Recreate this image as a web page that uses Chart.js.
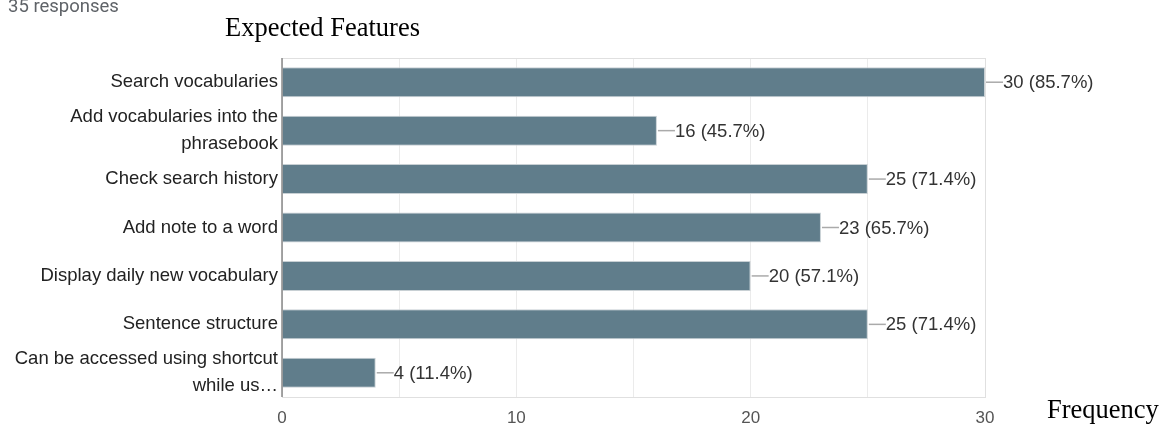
<!DOCTYPE html>
<html lang="en">
<head>
    <meta charset="UTF-8">
    <title>Expected Features</title>
    <script src="https://cdn.jsdelivr.net/npm/chart.js"></script>
    <style>
        html, body { margin: 0; padding: 0; background: #fff; }
        #wrap { position: relative; width: 1160px; height: 425px; overflow: hidden; }
        #responses { position: absolute; left: 8px; top: -5px; font: 18.5px Roboto, sans-serif; color: #5f6368; }
    </style>
</head>
<body>
    <div id="wrap">
        <canvas id="featuresChart" width="1160" height="425"></canvas>
        <div id="responses">35 responses</div>
    </div>

    <script>
        // chart data
        const features = [
            'Search vocabularies',
            ['Add vocabularies into the', 'phrasebook'],
            'Check search history',
            'Add note to a word',
            'Display daily new vocabulary',
            'Sentence structure',
            ['Can be accessed using shortcut', 'while us\u2026']
        ];
        const counts = [30, 16, 25, 23, 20, 25, 4];
        const percents = ['85.7%', '45.7%', '71.4%', '65.7%', '57.1%', '71.4%', '11.4%'];
        const xTicks = [0, 10, 20, 30];

        const sans = '"Liberation Sans", Arial, sans-serif';

        // frame, value labels and serif titles
        const extras = {
            id: 'extras',
            beforeDatasetsDraw(chart) {
                const { ctx, chartArea: a } = chart;
                ctx.save();
                ctx.strokeStyle = '#e0e0e0';
                ctx.lineWidth = 1;
                ctx.strokeRect(a.left + 0.5, a.top + 0.5, a.right - a.left, a.bottom - a.top);
                ctx.restore();
            },
            afterDatasetsDraw(chart) {
                const { ctx, chartArea: a } = chart;
                ctx.save();
                ctx.strokeStyle = '#888';
                ctx.lineWidth = 1.5;
                ctx.beginPath();
                ctx.moveTo(a.left, a.top);
                ctx.lineTo(a.left, a.bottom);
                ctx.stroke();

                const meta = chart.getDatasetMeta(0);
                ctx.font = '18.5px ' + sans;
                ctx.textBaseline = 'middle';
                ctx.textAlign = 'left';
                meta.data.forEach((bar, i) => {
                    ctx.strokeStyle = '#aaa';
                    ctx.lineWidth = 1.5;
                    ctx.beginPath();
                    ctx.moveTo(bar.x + 1, bar.y);
                    ctx.lineTo(bar.x + 18, bar.y);
                    ctx.stroke();
                    ctx.fillStyle = '#333';
                    ctx.fillText(counts[i] + ' (' + percents[i] + ')', bar.x + 18, bar.y + 1);
                });

                ctx.fillStyle = '#000';
                ctx.font = '26.5px "Liberation Serif", "Times New Roman", serif';
                ctx.textBaseline = 'alphabetic';
                ctx.fillText('Expected Features', 225, 36);
                ctx.fillText('Frequency', 1047, 418);
                ctx.restore();
            }
        };

        new Chart(document.getElementById('featuresChart'), {
            type: 'bar',
            data: {
                labels: features,
                datasets: [{
                    data: counts,
                    backgroundColor: '#607d8b',
                    borderColor: '#c8d0d4',
                    borderWidth: 1,
                    barPercentage: 0.62,
                    categoryPercentage: 1
                }]
            },
            options: {
                indexAxis: 'y',
                responsive: false,
                animation: false,
                layout: { padding: { top: 58, right: 175, left: 0, bottom: 0 } },
                plugins: { legend: { display: false }, tooltip: { enabled: false } },
                scales: {
                    x: {
                        min: 0,
                        max: 30,
                        ticks: {
                            stepSize: 5,
                            color: '#555',
                            padding: 11,
                            font: { family: sans, size: 17 },
                            callback: v => xTicks.includes(v) ? v : ''
                        },
                        grid: { color: '#ebebeb', drawTicks: false },
                        border: { display: false },
                        afterFit(scale) { scale.height = 28; }
                    },
                    y: {
                        ticks: {
                            color: '#222',
                            padding: 4,
                            autoSkip: false,
                            font: { family: sans, size: 18.5, lineHeight: 1.45 }
                        },
                        grid: { display: false, drawTicks: false },
                        border: { display: false },
                        afterFit(scale) { scale.width = 282; }
                    }
                }
            },
            plugins: [extras]
        });
    </script>
</body>
</html>
